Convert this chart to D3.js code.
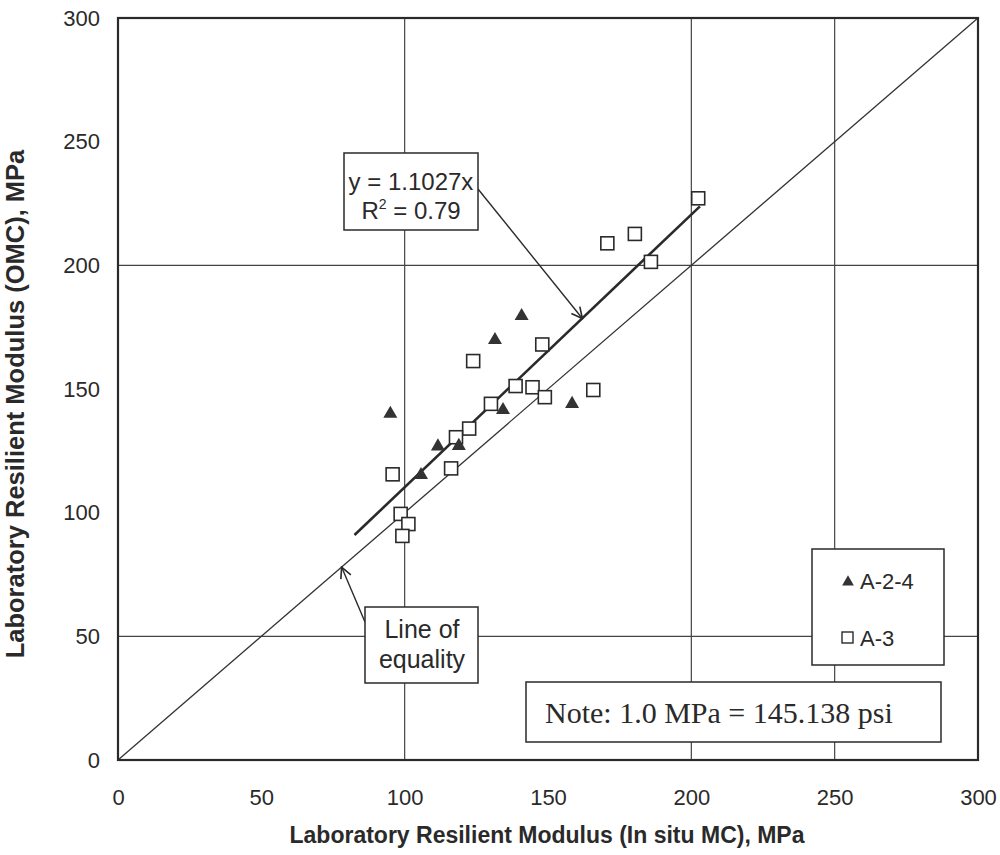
<!DOCTYPE html>
<html>
<head>
<meta charset="utf-8">
<script src="https://cdn.jsdelivr.net/npm/d3@7"></script>
<style>
  body { margin: 0; background: #fff; }
  text { font-family: "Liberation Sans", Arial, sans-serif; fill: #2a2a2a; }
</style>
</head>
<body>
<svg id="chart" width="1000" height="855"></svg>
<script>
// values
const a24X = [95, 140.8, 131.5, 111.6, 118.9, 105.7, 134.3, 158.4];
const a24Y = [140, 179.5, 169.8, 126.8, 127, 115.2, 141.5, 144];
const a3X = [202.4, 180.3, 170.7, 185.9, 148, 123.9, 138.7, 144.6, 148.9, 165.8, 130.1, 122.5, 117.9, 116.2, 95.8, 98.6, 101.3, 99.2];
const a3Y = [227.1, 212.7, 208.9, 201.4, 168, 161.3, 151.2, 150.7, 146.7, 149.6, 144, 134, 130.5, 117.9, 115.5, 99.5, 95.4, 90.6];
const slope = 1.1027;
const trendRange = [82.5, 203];
const tickVals = [0, 50, 100, 150, 200, 250, 300];
const gridX = [100, 200, 250];
const gridY = [50, 200];

const margin = { top: 18, right: 22, bottom: 95, left: 118 },
    width = 1000 - margin.left - margin.right,
    height = 855 - margin.top - margin.bottom;

const svg = d3.select("#chart")
    .append("g")
    .attr("transform", `translate(${margin.left},${margin.top})`);

const x = d3.scaleLinear().domain([0, 300]).range([0, width]);
const y = d3.scaleLinear().domain([0, 300]).range([height, 0]);

// gridlines
svg.selectAll(".gx").data(gridX).enter().append("line")
    .attr("x1", d => x(d)).attr("x2", d => x(d))
    .attr("y1", 0).attr("y2", height)
    .attr("stroke", "#444").attr("stroke-width", 1.2);
svg.selectAll(".gy").data(gridY).enter().append("line")
    .attr("y1", d => y(d)).attr("y2", d => y(d))
    .attr("x1", 0).attr("x2", width)
    .attr("stroke", "#444").attr("stroke-width", 1.2);

// axes (labels only, no tick marks)
const xAxis = svg.append("g")
    .attr("transform", `translate(0,${height})`)
    .call(d3.axisBottom(x).tickValues(tickVals).tickSize(0).tickPadding(29));
xAxis.select(".domain").remove();
xAxis.selectAll("text").style("font-size", "22px").attr("fill", "#2a2a2a");

const yAxis = svg.append("g")
    .call(d3.axisLeft(y).tickValues(tickVals).tickSize(0).tickPadding(18));
yAxis.select(".domain").remove();
yAxis.selectAll("text").style("font-size", "22px").attr("fill", "#2a2a2a");

// line of equality
svg.append("line")
    .attr("x1", x(0)).attr("y1", y(0))
    .attr("x2", x(300)).attr("y2", y(300))
    .attr("stroke", "#333").attr("stroke-width", 1.3);

// fitted line
svg.append("line")
    .attr("x1", x(trendRange[0])).attr("y1", y(slope * trendRange[0]))
    .attr("x2", x(trendRange[1])).attr("y2", y(slope * trendRange[1]))
    .attr("stroke", "#2a2a2a").attr("stroke-width", 2.6);

// plot frame
svg.append("rect")
    .attr("width", width).attr("height", height)
    .attr("fill", "none").attr("stroke", "#2a2a2a").attr("stroke-width", 2.2);

// A-3 squares
svg.selectAll(".sq").data(a3X).enter().append("rect")
    .attr("x", (d, i) => x(d) - 6.5)
    .attr("y", (d, i) => y(a3Y[i]) - 6.5)
    .attr("width", 13).attr("height", 13)
    .attr("fill", "#fff").attr("stroke", "#2a2a2a").attr("stroke-width", 1.6);

// A-2-4 triangles
const tri = d3.symbol().type(d3.symbolTriangle).size(85);
svg.selectAll(".tri").data(a24X).enter().append("path")
    .attr("d", tri)
    .attr("transform", (d, i) => `translate(${x(d)},${y(a24Y[i])})`)
    .attr("fill", "#333");

// arrow marker
svg.append("defs").append("marker")
    .attr("id", "arr").attr("viewBox", "0 0 12 12")
    .attr("refX", 11).attr("refY", 6)
    .attr("markerWidth", 13).attr("markerHeight", 13)
    .attr("markerUnits", "userSpaceOnUse")
    .attr("orient", "auto")
    .append("path").attr("d", "M1,1 L11,6 L1,11")
    .attr("fill", "none").attr("stroke", "#2a2a2a").attr("stroke-width", 1.5);

// equation callout
const eq = svg.append("g").attr("transform", `translate(${344 - margin.left},${153 - margin.top})`);
eq.append("line")
    .attr("x1", 134).attr("y1", 36)
    .attr("x2", x(162) - (344 - margin.left)).attr("y2", y(178.5) - (153 - margin.top))
    .attr("stroke", "#2a2a2a").attr("stroke-width", 1.4)
    .attr("marker-end", "url(#arr)");
eq.append("rect").attr("width", 134).attr("height", 77)
    .attr("fill", "#fff").attr("stroke", "#2a2a2a").attr("stroke-width", 1.5);
eq.append("text").attr("x", 67).attr("y", 37).attr("text-anchor", "middle")
    .style("font-size", "24px").text("y = 1.1027x");
const r2 = eq.append("text").attr("x", 67).attr("y", 66).attr("text-anchor", "middle")
    .style("font-size", "24px");
r2.append("tspan").text("R");
r2.append("tspan").attr("dy", -10).style("font-size", "14px").text("2");
r2.append("tspan").attr("dy", 10).text(" = 0.79");

// line of equality callout
const le = svg.append("g").attr("transform", `translate(${365 - margin.left},${607 - margin.top})`);
le.append("line")
    .attr("x1", 0).attr("y1", 15)
    .attr("x2", x(78) - (365 - margin.left)).attr("y2", y(78) - (607 - margin.top))
    .attr("stroke", "#2a2a2a").attr("stroke-width", 1.4)
    .attr("marker-end", "url(#arr)");
le.append("rect").attr("width", 113).attr("height", 76)
    .attr("fill", "#fff").attr("stroke", "#2a2a2a").attr("stroke-width", 1.5);
le.append("text").attr("x", 57).attr("y", 31).attr("text-anchor", "middle")
    .style("font-size", "25px").text("Line of");
le.append("text").attr("x", 57).attr("y", 61).attr("text-anchor", "middle")
    .style("font-size", "25px").text("equality");

// legend
const lg = svg.append("g").attr("transform", `translate(${812 - margin.left},${549 - margin.top})`);
lg.append("rect").attr("width", 132).attr("height", 116)
    .attr("fill", "#fff").attr("stroke", "#2a2a2a").attr("stroke-width", 1.5);
lg.append("path").attr("d", d3.symbol().type(d3.symbolTriangle).size(60))
    .attr("transform", "translate(36,33)").attr("fill", "#333");
lg.append("text").attr("x", 48).attr("y", 40).style("font-size", "22px").text("A-2-4");
lg.append("rect").attr("x", 30).attr("y", 83).attr("width", 11).attr("height", 11)
    .attr("fill", "#fff").attr("stroke", "#2a2a2a").attr("stroke-width", 1.4);
lg.append("text").attr("x", 48).attr("y", 97).style("font-size", "22px").text("A-3");

// note
const nt = svg.append("g").attr("transform", `translate(${526 - margin.left},${682 - margin.top})`);
nt.append("rect").attr("width", 415).attr("height", 60)
    .attr("fill", "#fff").attr("stroke", "#2a2a2a").attr("stroke-width", 1.5);
nt.append("text").attr("x", 19).attr("y", 41)
    .style("font-family", "'Liberation Serif', 'Times New Roman', serif")
    .style("font-size", "30px").text("Note: 1.0 MPa = 145.138 psi");

// axis titles
svg.append("text")
    .attr("x", 547 - margin.left).attr("y", 843 - margin.top)
    .attr("text-anchor", "middle")
    .style("font-size", "23px").style("font-weight", "bold")
    .text("Laboratory Resilient Modulus (In situ MC), MPa");
svg.append("text")
    .attr("transform", "rotate(-90)")
    .attr("x", -(404 - margin.top)).attr("y", 24 - margin.left)
    .attr("text-anchor", "middle")
    .style("font-size", "25.5px").style("font-weight", "bold")
    .text("Laboratory Resilient Modulus (OMC), MPa");
</script>
</body>
</html>
